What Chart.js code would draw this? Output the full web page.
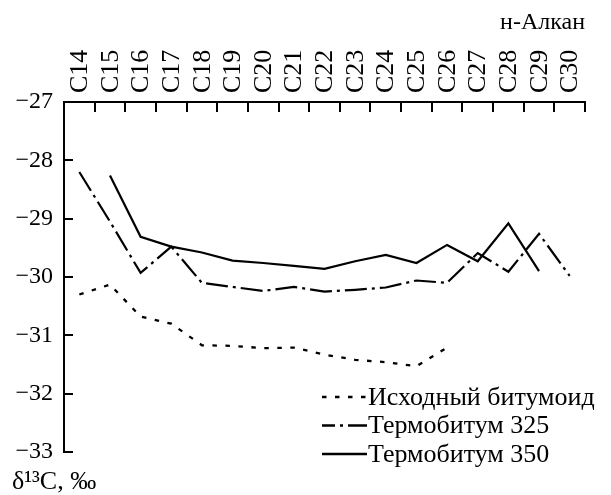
<!DOCTYPE html>
<html><head><meta charset="utf-8">
<script src="https://cdn.jsdelivr.net/npm/chart.js@4.4.1/dist/chart.umd.min.js"></script>
<style>html,body{margin:0;padding:0;background:#fff;} #wrap{width:611px;height:495px;position:relative;}</style>
</head><body><div id="wrap"><canvas id="c"></canvas></div>
<script>
const categories = ['C14','C15','C16','C17','C18','C19','C20','C21','C22','C23','C24','C25','C26','C27','C28','C29','C30'];
const isoBitumoid = [-30.30,-30.13,-30.68,-30.80,-31.17,-31.18,-31.22,-31.21,-31.33,-31.42,-31.46,-31.53,-31.21,null,null,null,null];
const termo325 = [-28.20,-29.05,-29.93,-29.48,-30.10,-30.17,-30.24,-30.17,-30.25,-30.22,-30.18,-30.06,-30.10,-29.59,-29.91,-29.26,-29.98];
const termo350 = [null,-28.26,-29.31,-29.48,-29.58,-29.72,-29.76,-29.81,-29.86,-29.73,-29.62,-29.76,-29.45,-29.73,-29.08,-29.90,null];
const seriesNames = ['Исходный битумоид','Термобитум 325','Термобитум 350'];
const yTickValues = [-33,-32,-31,-30,-29,-28,-27];
const yTickLabels = ['−33','−32','−31','−30','−29','−28','−27'];
const xTitle = 'н-Алкан';
const yTitle = 'δ¹³C, ‰';

Chart.defaults.font.family = '"Liberation Serif", "Times New Roman", serif';
Chart.defaults.color = '#000';

const inlineLegend = {
  id: 'inlineLegend',
  afterDraw(chart) {
    const {ctx, chartArea} = chart;
    const x0 = chartArea.left + 258;
    const len = 45;
    const y0 = chartArea.bottom - 55;
    const step = 28.5;
    ctx.save();
    ctx.font = '26px "Liberation Serif"';
    ctx.textBaseline = 'middle';
    ctx.textAlign = 'left';
    ctx.fillStyle = '#000';
    chart.data.datasets.forEach((ds, i) => {
      const y = y0 + i * step;
      ctx.beginPath();
      ctx.setLineDash(ds.borderDash || []);
      ctx.lineDashOffset = ds.legendDashOffset || 0;
      ctx.lineWidth = 2.6;
      ctx.strokeStyle = ds.borderColor;
      ctx.moveTo(x0, y);
      ctx.lineTo(x0 + len, y);
      ctx.stroke();
      ctx.setLineDash([]);
      ctx.fillText(ds.label, x0 + len + 1, y + 1);
    });
    ctx.restore();
  }
};

new Chart(document.getElementById('c'), {
  type: 'line',
  data: {
    labels: categories,
    datasets: [
      {label: seriesNames[0], data: isoBitumoid, borderColor: '#000', borderWidth: 2.3, borderDash: [4.5, 8.5], pointRadius: 0, tension: 0, fill: false, legendDashOffset: 0},
      {label: seriesNames[1], data: termo325, borderColor: '#000', borderWidth: 2.2, borderDash: [22, 5, 3, 5], pointRadius: 0, tension: 0, fill: false, legendDashOffset: 9},
      {label: seriesNames[2], data: termo350, borderColor: '#000', borderWidth: 2.2, pointRadius: 0, tension: 0, fill: false}
    ]
  },
  options: {
    responsive: true,
    maintainAspectRatio: false,
    animation: false,
    devicePixelRatio: 1,
    layout: {padding: {left: 12, right: 26, top: 0, bottom: 0}},
    plugins: {
      legend: {display: false},
      tooltip: {enabled: false},
      title: {display: false},
      subtitle: {
        display: true, text: yTitle, position: 'bottom', align: 'start',
        color: '#000',
        font: {size: 26, lineHeight: 1, family: '"Liberation Serif"'},
        padding: {top: 17, bottom: 0}
      }
    },
    scales: {
      x: {
        type: 'category',
        position: 'top',
        offset: true,
        grid: {offset: true, drawOnChartArea: false, drawTicks: true, tickLength: -10, lineWidth: 2, color: '#000'},
        border: {display: true, width: 2, color: '#000'},
        ticks: {minRotation: 90, maxRotation: 90, autoSkip: false, padding: 19, labelOffset: 32, font: {size: 26}, color: '#000'},
        title: {display: true, text: xTitle, align: 'end', font: {size: 24}, padding: {top: 8, bottom: 0}, color: '#000'},
        afterFit(scale) { scale.height = 102; }
      },
      y: {
        type: 'linear',
        position: 'left',
        min: -33,
        max: -27,
        afterBuildTicks(scale) { scale.ticks = yTickValues.map(v => ({value: v})); },
        grid: {drawOnChartArea: false, drawTicks: true, tickLength: -9, lineWidth: 2, color: '#000'},
        border: {display: true, width: 2, color: '#000'},
        ticks: {padding: 20, font: {size: 24}, color: '#000', callback: (v, i) => yTickLabels[i]},
        afterFit(scale) { scale.width = 52; }
      }
    }
  },
  plugins: [inlineLegend]
});
</script>
</body></html>
